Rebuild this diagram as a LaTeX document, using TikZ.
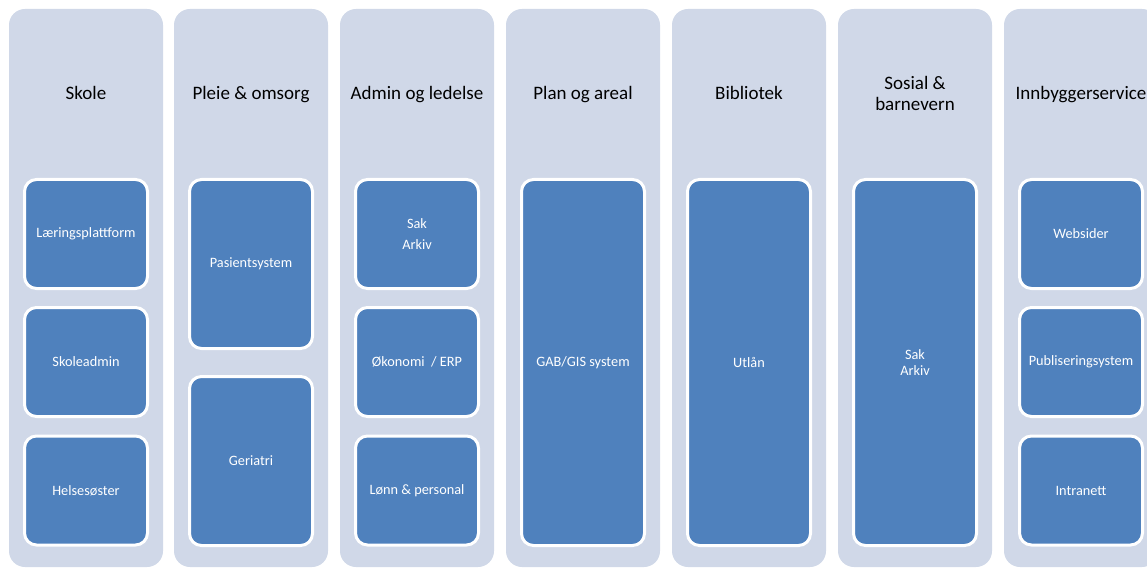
\documentclass[tikz,border=0pt]{standalone}
\usepackage{fontspec}
\setmainfont{Carlito}
\definecolor{lanebg}{RGB}{208,216,232}
\definecolor{boxblue}{RGB}{79,129,189}

\begin{document}
\begin{tikzpicture}[x=1pt,y=-1pt,
			lane/.style={fill=lanebg,rounded corners=16pt,minimum width=154pt,minimum height=558pt,inner sep=0pt},
			lanetitle/.style={font=\fontsize{19}{21}\selectfont,align=center,text=black},
			sysbox/.style={draw=white,line width=3pt,fill=boxblue,rounded corners=12pt,minimum width=123pt,inner sep=0pt,text=white,font=\fontsize{14.3}{16}\selectfont,align=center}]
			\useasboundingbox (0,0) rectangle (1147,569);
			\clip (0,0) rectangle (1147,569);
			% lanes
			\node[lane] (skole) at (86,288){};
			\node[lane] (pleie) at (251,288){};
			\node[lane] (admin) at (417,288){};
			\node[lane] (plan) at (583,288){};
			\node[lane] (bibl) at (749,288){};
			\node[lane] (sosial) at (915,288){};
			\node[lane] (innb) at (1081,288){};
			% titles
			\node[lanetitle,anchor=base] (skoleT) at (86,100){Skole};
			\node[lanetitle,anchor=base] (pleieT) at (251,100){Pleie \& omsorg};
			\node[lanetitle,anchor=base] (adminT) at (417,100){Admin og ledelse};
			\node[lanetitle,anchor=base] (planT) at (583,100){Plan og areal};
			\node[lanetitle,anchor=base] (biblT) at (749,100){Bibliotek};
			\node[lanetitle] (sosialT) at (915,93.5){Sosial \&\\barnevern};
			\node[lanetitle,anchor=base] (innbT) at (1081,100){Innbyggerservice};
			% systems
			\node[sysbox,minimum height=109pt] (laering) at (86,234){Læringsplattform};
			\node[sysbox,minimum height=109pt] (skoleadm) at (86,362){Skoleadmin};
			\node[sysbox,minimum height=109pt] (helse) at (86,490.5){Helsesøster};
			\node[sysbox,minimum height=169pt] (pasient) at (251,264){Pasientsystem};
			\node[sysbox,minimum height=169pt] (geri) at (251,461){Geriatri};
			\node[sysbox,minimum height=109pt] (sakarkiv) at (417,234){Sak\\[5pt]Arkiv};
			\node[sysbox,minimum height=109pt] (okonomi) at (417,362){Økonomi~~/ ERP};
			\node[sysbox,minimum height=109pt] (lonn) at (417,490.5){Lønn \& personal};
			\node[sysbox,minimum height=366pt] (gabgis) at (583,362.5){GAB/GIS system};
			\node[sysbox,minimum height=366pt] (utlan) at (749,362.5){Utlån};
			\node[sysbox,minimum height=366pt] (saksos) at (915,362.5){Sak\\Arkiv};
			\node[sysbox,minimum height=109pt] (web) at (1081,234){Websider};
			\node[sysbox,minimum height=109pt] (publ) at (1081,362){Publiseringsystem};
			\node[sysbox,minimum height=109pt] (intra) at (1081,490.5){Intranett};
		\end{tikzpicture}
\end{document}
